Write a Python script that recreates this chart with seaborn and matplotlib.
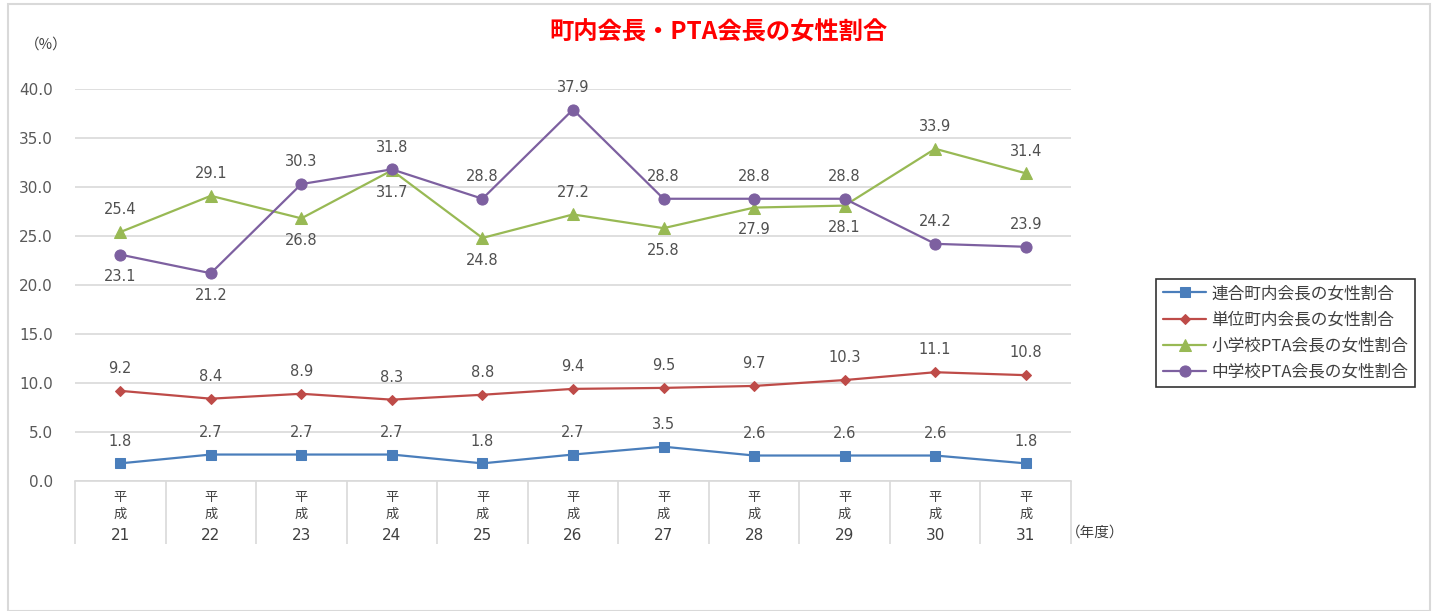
import matplotlib
matplotlib.use("Agg")
import matplotlib.pyplot as plt
import seaborn as sns
import pandas as pd
import numpy as np
from matplotlib.patches import Rectangle

sns.set_theme(style="white")
plt.rcParams['font.family'] = ['Noto Sans CJK JP', 'DejaVu Sans']
NUM_FONT = ['DejaVu Sans', 'Noto Sans CJK JP']

years = ["21", "22", "23", "24", "25", "26", "27", "28", "29", "30", "31"]
era = "平\n成"
series_names = ["連合町内会長の女性割合", "単位町内会長の女性割合",
                "小学校PTA会長の女性割合", "中学校PTA会長の女性割合"]
rengo = [1.8, 2.7, 2.7, 2.7, 1.8, 2.7, 3.5, 2.6, 2.6, 2.6, 1.8]
tani = [9.2, 8.4, 8.9, 8.3, 8.8, 9.4, 9.5, 9.7, 10.3, 11.1, 10.8]
shogakko = [25.4, 29.1, 26.8, 31.7, 24.8, 27.2, 25.8, 27.9, 28.1, 33.9, 31.4]
chugakko = [23.1, 21.2, 30.3, 31.8, 28.8, 37.9, 28.8, 28.8, 28.8, 24.2, 23.9]
# label position: 1 = above, -1 = below
pos_rengo = [1] * 11
pos_tani = [1] * 11
pos_sho = [1, 1, -1, -1, -1, 1, -1, -1, -1, 1, 1]
pos_chu = [-1, -1, 1, 1, 1, 1, 1, 1, 1, 1, 1]

colors = ["#4A7EBB", "#BE4B48", "#98B954", "#7D60A0"]
markers = ["s", "D", "^", "o"]
msizes = [7.5, 5.5, 8, 8]
all_vals = [rengo, tani, shogakko, chugakko]
all_pos = [pos_rengo, pos_tani, pos_sho, pos_chu]

fig = plt.figure(figsize=(14.33, 6.11), dpi=100)
ax = fig.add_axes([75 / 1433, 1 - 481 / 611, (1071 - 75) / 1433, (481 - 89) / 611])

x = np.arange(len(years))
for name, vals, c, m, ms in zip(series_names, all_vals, colors, markers, msizes):
    df = pd.DataFrame({"x": x, "y": vals})
    sns.lineplot(data=df, x="x", y="y", ax=ax, color=c, marker=m, markersize=ms,
                 markeredgecolor=c, linewidth=1.6, label=name, zorder=3)

for vals, pos in zip(all_vals, all_pos):
    for xi, v, p in zip(x, vals, pos):
        ax.annotate(f"{v:.1f}", xy=(xi, v), xytext=(0, 16 * p), textcoords="offset points",
                    ha="center", va="center", fontsize=10.5, color="#505050",
                    family=NUM_FONT)

ax.set_xlim(-0.5, len(years) - 0.5)
ax.set_ylim(0, 40)
yt = np.arange(0, 40.1, 5)
ax.set_yticks(yt)
ax.set_yticklabels([f"{t:.1f}" for t in yt], fontsize=11, color="#595959", family=NUM_FONT)
ax.yaxis.grid(True, color="#D9D9D9", linewidth=1.2)
ax.xaxis.grid(False)
ax.tick_params(axis="y", length=0, pad=16)
for s in ["top", "right", "left"]:
    ax.spines[s].set_visible(False)
ax.spines["bottom"].set_color("#D9D9D9")
ax.spines["bottom"].set_linewidth(1.2)

ax.set_xticks(x)
ax.set_xticklabels([""] * len(years))
ax.set_xticks(np.arange(-0.5, len(years), 1), minor=True)
ax.tick_params(axis="x", which="major", length=0, bottom=True)
ax.tick_params(axis="x", which="minor", length=45, color="#D9D9D9", width=1.2,
               direction="out", bottom=True)
ax.set_xlabel("")
ax.set_ylabel("")

for xi, yr in zip(x, years):
    ax.annotate(era, xy=(xi, 0), xycoords=("data", "axes fraction"), xytext=(0, -18),
                textcoords="offset points", ha="center", va="center", fontsize=9.5,
                color="#404040", linespacing=1.3)
    ax.annotate(yr, xy=(xi, 0), xycoords=("data", "axes fraction"), xytext=(0, -39),
                textcoords="offset points", ha="center", va="center", fontsize=11,
                color="#404040", family=NUM_FONT)

fig.text(1095 / 1433, 1 - 533 / 611, "（年度）", ha="center", va="center", fontsize=10.5, color="#404040")
fig.text(46 / 1433, 1 - 45 / 611, "（%）", ha="center", va="center", fontsize=10.5, color="#404040")
fig.text(718 / 1433, 1 - 33 / 611, "町内会長・PTA会長の女性割合", ha="center", va="center",
         fontsize=17.5, color="#FF0000", fontweight="bold")

handles, labels = ax.get_legend_handles_labels()
leg = ax.legend(handles, labels, loc="center left", bbox_to_anchor=(1148 / 1433, 1 - 333 / 611),
                bbox_transform=fig.transFigure, fontsize=12, frameon=True, fancybox=False,
                edgecolor="black", borderpad=0.4, handlelength=2.6, handletextpad=0.3,
                labelspacing=0.55, labelcolor="#404040")
leg.get_frame().set_linewidth(1.2)

fig.patches.append(Rectangle((8 / 1433, 0), (1430 - 8) / 1433, 1 - 4 / 611,
                             transform=fig.transFigure, fill=False, edgecolor="#D9D9D9",
                             linewidth=1.5))

fig.savefig("out.png", dpi=100, facecolor="white")
